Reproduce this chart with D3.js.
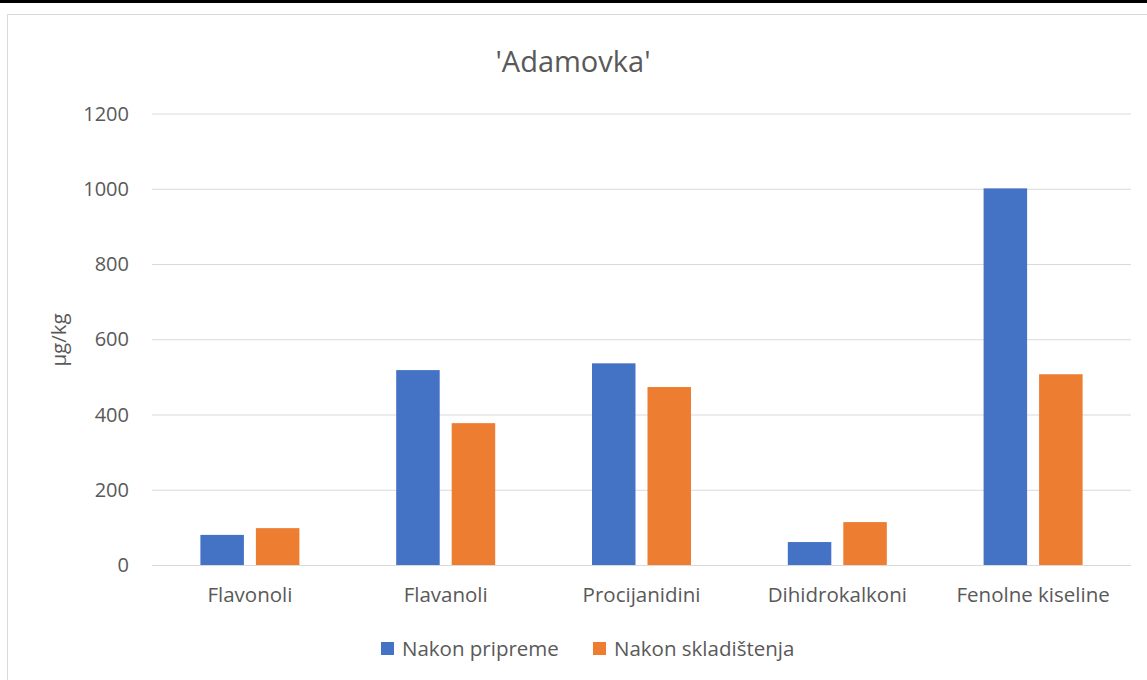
<!DOCTYPE html>
<meta charset="utf-8">
<style>
body { margin: 0; background: #fff; }
svg { display: block; }
text { font-family: "Open Sans", "Noto Sans", sans-serif; fill: #595959; }
.grid line { stroke: #d9d9d9; stroke-width: 1px; }
.grid path { stroke: none; }
</style>
<body>
<script src="https://cdnjs.cloudflare.com/ajax/libs/d3/7.8.5/d3.min.js"></script>
<script>
// data
var categories = ["Flavonoli", "Flavanoli", "Procijanidini", "Dihidrokalkoni", "Fenolne kiseline"];
var seriesNames = ["Nakon pripreme", "Nakon skladištenja"];
var pripreme = [80, 518, 536, 61, 1001];
var skladistenja = [98, 377, 473, 114, 507];
var yTicks = [0, 200, 400, 600, 800, 1000, 1200];
var colors = ["#4472c4", "#ed7d31"];

var W = 1147, H = 680;
var margin = {top: 113.5, right: 16, bottom: 115, left: 152};
var width = W - margin.left - margin.right,
    height = H - margin.top - margin.bottom;

var svg = d3.select("body").append("svg")
    .attr("width", W)
    .attr("height", H);

// black strip at very top + chart frame
svg.append("rect").attr("x", 0).attr("y", 0).attr("width", W).attr("height", 3).attr("fill", "#000");
svg.append("path")
    .attr("d", "M7.5," + H + "V14.5H" + W)
    .attr("fill", "none").attr("stroke", "#d9d9d9");

var g = svg.append("g").attr("transform", "translate(" + margin.left + "," + margin.top + ")");

var x = d3.scaleBand().domain(categories).range([0, width]);
var y = d3.scaleLinear().domain([0, 1200]).range([height, 0]);

// grid
g.append("g")
    .attr("class", "grid")
    .call(d3.axisLeft(y).tickValues(yTicks).tickSize(-width).tickFormat(""));

// y tick labels
g.selectAll(".ylab")
  .data(yTicks)
  .enter().append("text")
    .attr("x", -23)
    .attr("y", function(d) { return y(d); })
    .attr("dy", "0.35em")
    .attr("text-anchor", "end")
    .style("font-size", "20px")
    .text(function(d) { return d; });

var barW = 43.5, gap = 12;
var data = categories.map(function(c, i) { return {cat: c, vals: [pripreme[i], skladistenja[i]]}; });

var groups = g.selectAll(".grp")
  .data(data)
  .enter().append("g")
    .attr("transform", function(d) { return "translate(" + (x(d.cat) + x.bandwidth() / 2) + ",0)"; });

groups.selectAll("rect")
  .data(function(d) { return d.vals; })
  .enter().append("rect")
    .attr("x", function(d, i) { return i === 0 ? -gap / 2 - barW : gap / 2; })
    .attr("y", function(d) { return y(d); })
    .attr("width", barW)
    .attr("height", function(d) { return height - y(d); })
    .attr("fill", function(d, i) { return colors[i]; });

// x category labels
groups.append("text")
    .attr("y", height + 37)
    .attr("text-anchor", "middle")
    .style("font-size", "20.5px")
    .text(function(d) { return d.cat; });

// title
svg.append("text")
    .attr("x", 573)
    .attr("y", 72)
    .attr("text-anchor", "middle")
    .style("font-size", "29px")
    .text("'Adamovka'");

// y axis title
svg.append("text")
    .attr("transform", "translate(66,340) rotate(-90)")
    .attr("text-anchor", "middle")
    .style("font-size", "20.5px")
    .text("μg/kg");

// legend
var legX = [381, 593];
var leg = svg.selectAll(".leg")
  .data(seriesNames)
  .enter().append("g")
    .attr("transform", function(d, i) { return "translate(" + legX[i] + ",642)"; });
leg.append("rect").attr("width", 13).attr("height", 13)
    .attr("fill", function(d, i) { return colors[i]; });
leg.append("text")
    .attr("x", 21).attr("y", 6.5).attr("dy", "0.35em")
    .style("font-size", "20.5px")
    .text(function(d) { return d; });
</script>
</body>
